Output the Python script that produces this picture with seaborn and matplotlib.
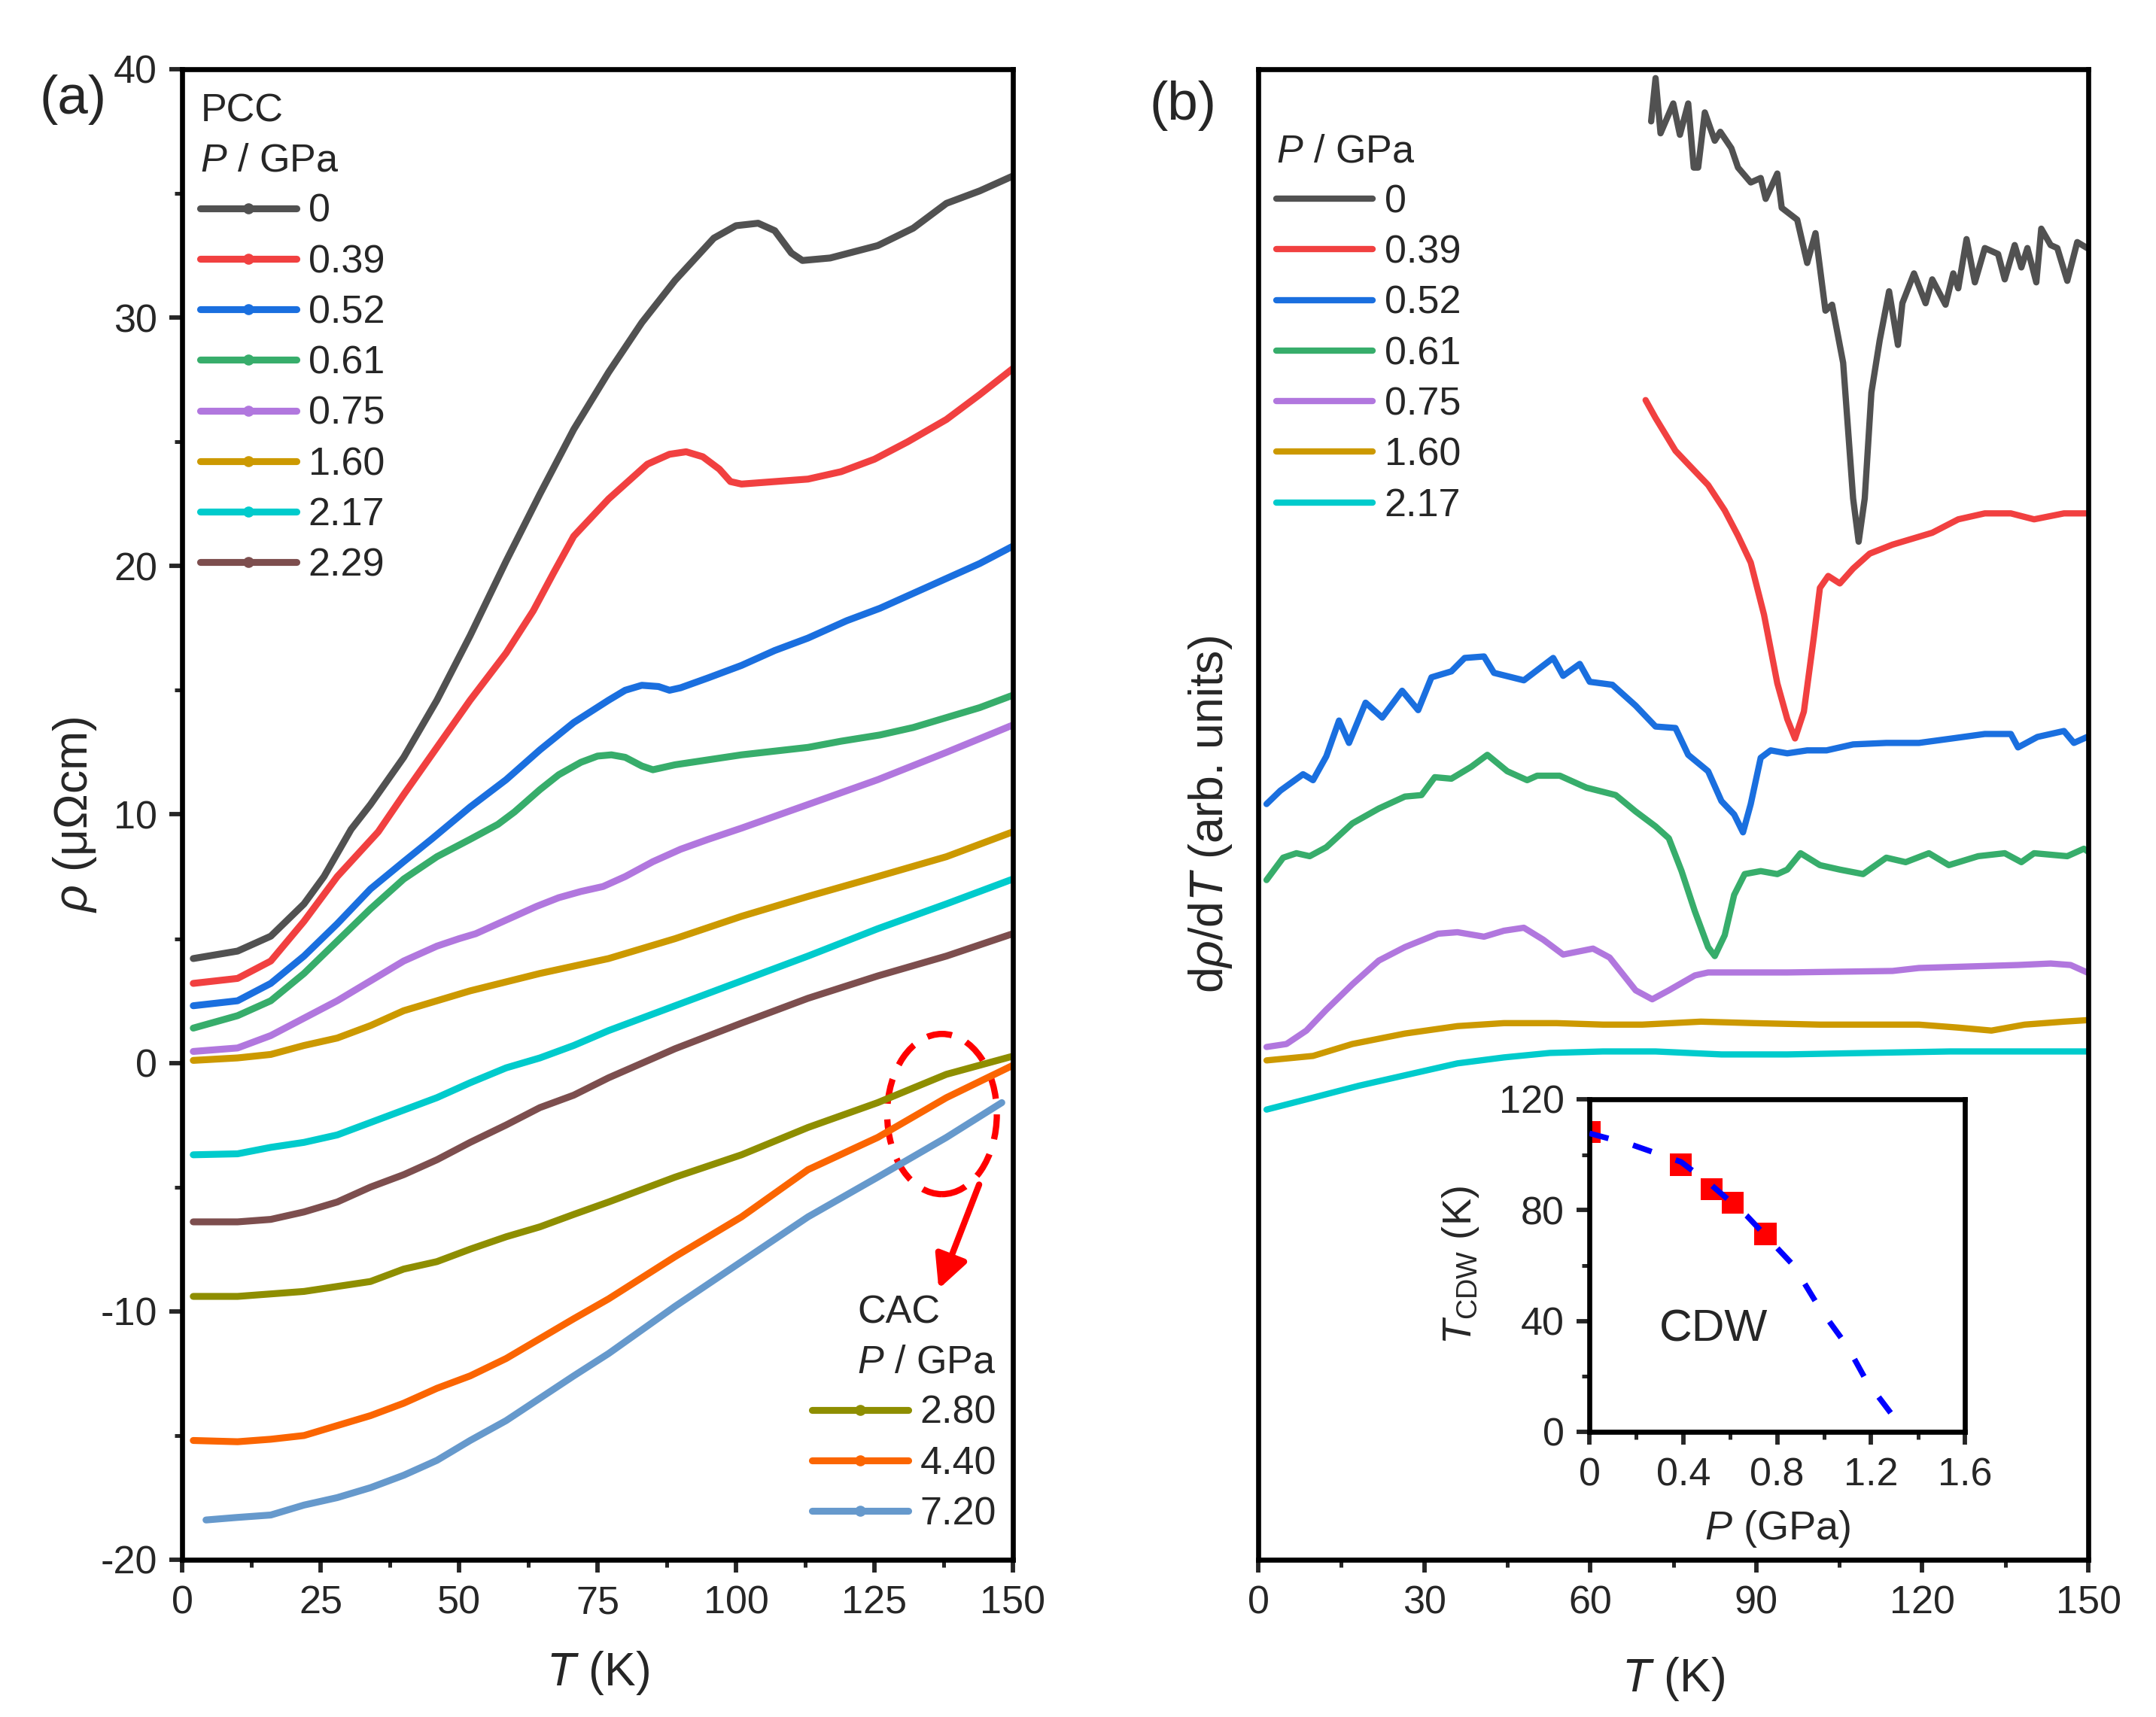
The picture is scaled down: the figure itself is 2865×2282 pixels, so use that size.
import numpy as np
import pandas as pd
import matplotlib
matplotlib.use("Agg")
import matplotlib.pyplot as plt
import seaborn as sns
from matplotlib.patches import Ellipse
from matplotlib.lines import Line2D
from matplotlib.ticker import MultipleLocator

# ---------------- data: panel (a) rho(T) ----------------
pcc_labels = ["0", "0.39", "0.52", "0.61", "0.75", "1.60", "2.17", "2.29"]
cac_labels = ["2.80", "4.40", "7.20"]
colors_a = ["#515151", "#F14040", "#1A6FDF", "#37AD6B", "#B177DE", "#CC9900",
            "#00CBCC", "#7D4E4E", "#8E8E00", "#FB6501", "#6699CC"]

T_p0 = [2, 10, 16, 22, 25.6, 30.5, 34, 40, 46, 52, 58.5, 64.6, 70.7, 77, 83, 89, 96, 100, 104, 107, 110, 112, 117, 125.6, 132, 138, 144, 150]
R_p0 = [4.2, 4.5, 5.1, 6.4, 7.5, 9.4, 10.4, 12.3, 14.6, 17.2, 20.2, 22.9, 25.5, 27.8, 29.8, 31.5, 33.2, 33.7, 33.8, 33.5, 32.6, 32.3, 32.4, 32.9, 33.6, 34.6, 35.1, 35.7]

T_p039 = [2, 10, 16, 22, 28, 35.4, 40, 46, 52, 58.5, 63.4, 67, 70.7, 77, 84, 88, 91, 94, 97, 99, 101, 107, 113, 119, 125, 131, 138, 144, 150]
R_p039 = [3.2, 3.4, 4.1, 5.7, 7.5, 9.3, 10.8, 12.7, 14.6, 16.5, 18.2, 19.7, 21.2, 22.7, 24.1, 24.5, 24.6, 24.4, 23.9, 23.4, 23.3, 23.4, 23.5, 23.8, 24.3, 25.0, 25.9, 26.9, 27.95]

T_p052 = [2, 10, 16, 22, 28, 34, 40, 45, 52, 58.5, 64.6, 70.7, 77, 80, 83, 86, 88, 90, 95, 101, 107, 113, 120, 126, 132, 138, 144, 150]
R_p052 = [2.3, 2.5, 3.2, 4.3, 5.6, 7.0, 8.1, 9.0, 10.3, 11.4, 12.6, 13.7, 14.6, 15.0, 15.2, 15.15, 15.0, 15.1, 15.5, 16.0, 16.6, 17.1, 17.8, 18.3, 18.9, 19.5, 20.1, 20.8]

T_p061 = [2, 10, 16, 22, 28, 34, 40, 46, 52, 57, 60, 64.6, 68, 72, 75, 77.5, 80, 83, 85, 89, 95, 101, 107, 113, 119, 126, 132, 138, 144, 150]
R_p061 = [1.4, 1.9, 2.5, 3.6, 4.9, 6.2, 7.4, 8.3, 9.0, 9.6, 10.1, 11.0, 11.6, 12.1, 12.35, 12.4, 12.3, 11.95, 11.8, 12.0, 12.2, 12.4, 12.55, 12.7, 12.95, 13.2, 13.5, 13.9, 14.3, 14.8]

T_p075 = [2, 10, 16, 22, 28, 34, 40, 46, 50, 53, 56, 60, 64, 68, 72, 76, 80, 85, 90, 95, 101, 113, 125.6, 138, 150]
R_p075 = [0.46, 0.6, 1.1, 1.8, 2.5, 3.3, 4.1, 4.7, 5.0, 5.2, 5.5, 5.9, 6.3, 6.65, 6.9, 7.1, 7.5, 8.1, 8.6, 9.0, 9.45, 10.4, 11.4, 12.5, 13.6]

T_p160 = [2, 10, 16, 22, 28, 34, 40, 46, 52, 64.6, 77, 89, 101, 113, 125.6, 138, 150]
R_p160 = [0.1, 0.2, 0.34, 0.7, 1.0, 1.5, 2.1, 2.5, 2.9, 3.6, 4.2, 5.0, 5.9, 6.7, 7.5, 8.3, 9.3]

T_p217 = [2, 10, 16, 22, 28, 34, 40, 46, 52, 58.5, 64.6, 70.7, 77, 89, 101, 113, 125.6, 138, 150]
R_p217 = [-3.7, -3.66, -3.4, -3.2, -2.9, -2.4, -1.9, -1.4, -0.8, -0.2, 0.2, 0.7, 1.3, 2.3, 3.3, 4.3, 5.4, 6.4, 7.4]

T_p229 = [2, 10, 16, 22, 28, 34, 40, 46, 52, 58.5, 64.6, 70.7, 77, 89, 101, 113, 125.6, 138, 150]
R_p229 = [-6.4, -6.4, -6.3, -6.0, -5.6, -5.0, -4.5, -3.9, -3.2, -2.5, -1.8, -1.3, -0.6, 0.57, 1.6, 2.6, 3.5, 4.3, 5.2]

T_p280 = [2, 10, 16, 22, 28, 34, 40, 46, 52, 58.5, 64.6, 70.7, 77, 89, 101, 113, 125.6, 138, 150]
R_p280 = [-9.4, -9.4, -9.3, -9.2, -9.0, -8.8, -8.3, -8.0, -7.5, -7.0, -6.6, -6.1, -5.6, -4.6, -3.7, -2.6, -1.6, -0.46, 0.27]

T_p440 = [2, 10, 16, 22, 28, 34, 40, 46, 52, 58.5, 64.6, 70.7, 77, 89, 101, 113, 125.6, 138, 150]
R_p440 = [-15.2, -15.25, -15.15, -15.0, -14.6, -14.2, -13.7, -13.1, -12.6, -11.9, -11.1, -10.3, -9.5, -7.8, -6.2, -4.3, -3.0, -1.4, -0.1]

T_p720 = [4.3, 9.8, 16, 22, 28, 34, 40, 46, 52, 58.5, 64.6, 70.7, 77, 89, 101, 113, 125.6, 138, 148]
R_p720 = [-18.4, -18.3, -18.2, -17.8, -17.5, -17.1, -16.6, -16.0, -15.2, -14.4, -13.5, -12.6, -11.7, -9.8, -8.0, -6.2, -4.6, -3.0, -1.6]

# ---------------- data: panel (b) drho/dT (arb. units) ----------------
b_labels = ["0", "0.39", "0.52", "0.61", "0.75", "1.60", "2.17"]

Tb_0 = [71.0, 71.8, 72.7, 75.0, 76.2, 77.7, 78.7, 79.5, 80.7, 82.5, 83.5, 85.5, 86.7, 89.0, 90.8, 91.7, 93.8, 94.6, 97.4, 99.2, 100.7, 102.5, 103.7, 105.7, 107.5, 108.5, 109.6, 110.8, 112.3, 114.0, 115.6, 116.4, 118.5, 120.6, 121.8, 124.2, 125.6, 126.5, 128.0, 129.5, 131.3, 133.7, 134.9, 136.7, 137.9, 139.0, 140.6, 141.5, 143.2, 144.4, 146.2, 148.0, 149.8]
Db_0 = [96.5, 99.4, 95.7, 97.7, 95.6, 97.7, 93.4, 93.4, 97.1, 95.2, 95.8, 94.7, 93.4, 92.4, 92.7, 91.3, 93.0, 90.7, 89.9, 87.0, 89.0, 83.8, 84.2, 80.3, 71.2, 68.3, 71.2, 78.3, 81.8, 85.1, 81.5, 84.3, 86.3, 84.3, 85.9, 84.2, 86.3, 85.3, 88.6, 85.7, 88.0, 87.6, 85.9, 88.2, 86.7, 88.0, 85.7, 89.3, 88.2, 88.0, 85.8, 88.4, 88.0]

Tb_039 = [70.0, 71.8, 75.4, 77.7, 81.3, 84.3, 86.7, 89.0, 91.4, 93.8, 95.6, 97.0, 98.6, 100.4, 101.5, 103.0, 105.1, 107.5, 110.5, 114.6, 118.2, 121.8, 126.5, 131.3, 136.0, 140.2, 145.6, 150.0]
Db_039 = [77.8, 76.6, 74.4, 73.5, 72.1, 70.4, 68.7, 66.9, 63.4, 58.8, 56.4, 55.1, 56.9, 61.9, 65.2, 66.0, 65.5, 66.5, 67.5, 68.1, 68.5, 68.9, 69.8, 70.2, 70.2, 69.8, 70.2, 70.2]

Tb_052 = [1.5, 4.0, 8.1, 9.9, 12.3, 14.6, 16.4, 19.4, 22.4, 26.0, 28.9, 31.3, 34.9, 37.3, 40.8, 42.6, 48.0, 53.3, 55.1, 58.1, 59.9, 64.0, 68.2, 71.8, 75.4, 77.7, 81.3, 83.7, 86.0, 87.6, 89.0, 90.8, 92.6, 95.6, 99.2, 102.7, 107.5, 113.5, 119.4, 125.4, 131.3, 136.0, 137.3, 140.8, 145.6, 147.4, 149.8]
Db_052 = [50.7, 51.6, 52.7, 52.3, 53.9, 56.3, 54.8, 57.5, 56.5, 58.3, 57.0, 59.2, 59.6, 60.5, 60.6, 59.5, 59.0, 60.5, 59.3, 60.1, 58.9, 58.7, 57.3, 55.9, 55.8, 54.0, 52.9, 50.9, 50.0, 48.8, 50.7, 53.8, 54.3, 54.1, 54.3, 54.3, 54.7, 54.8, 54.8, 55.1, 55.4, 55.4, 54.5, 55.2, 55.6, 54.8, 55.2]

Tb_061 = [1.5, 4.5, 6.9, 9.3, 12.3, 17.0, 21.8, 26.5, 29.5, 31.9, 34.9, 38.5, 41.4, 45.0, 48.6, 50.4, 54.5, 59.3, 64.6, 68.2, 71.8, 74.2, 76.5, 78.9, 81.3, 82.5, 84.3, 86.0, 87.9, 90.8, 93.8, 95.6, 98.0, 101.5, 105.1, 109.3, 113.5, 117.0, 121.2, 124.8, 130.1, 134.9, 137.9, 140.2, 146.2, 149.2, 150.0]
Db_061 = [45.6, 47.1, 47.4, 47.2, 47.8, 49.4, 50.4, 51.2, 51.3, 52.5, 52.4, 53.2, 54.0, 52.9, 52.3, 52.6, 52.6, 51.8, 51.3, 50.2, 49.2, 48.4, 46.2, 43.5, 41.1, 40.5, 41.9, 44.6, 46.0, 46.2, 46.0, 46.3, 47.4, 46.6, 46.3, 46.0, 47.1, 46.8, 47.4, 46.6, 47.2, 47.4, 46.8, 47.4, 47.2, 47.7, 47.5]

Tb_075 = [1.5, 5.1, 8.7, 12.3, 17.0, 21.8, 26.5, 32.5, 36.0, 40.8, 44.4, 48.0, 51.5, 55.1, 60.5, 63.5, 68.2, 71.2, 74.2, 78.9, 81.3, 95.6, 114.6, 119.4, 137.3, 143.2, 146.8, 149.8]
Db_075 = [34.4, 34.6, 35.5, 36.9, 38.6, 40.2, 41.1, 42.0, 42.1, 41.8, 42.2, 42.4, 41.6, 40.6, 41.0, 40.4, 38.2, 37.6, 38.2, 39.2, 39.4, 39.4, 39.5, 39.7, 39.9, 40.0, 39.9, 39.4]

Tb_160 = [1.5, 9.9, 17.0, 26.5, 36.0, 44.4, 53.9, 62.3, 69.4, 80.0, 89.6, 101.5, 119.4, 126.5, 132.5, 138.5, 145.6, 149.8]
Db_160 = [33.5, 33.8, 34.6, 35.3, 35.8, 36.0, 36.0, 35.9, 35.9, 36.1, 36.0, 35.9, 35.9, 35.7, 35.5, 35.9, 36.1, 36.2]

Tb_217 = [1.5, 9.9, 18.2, 26.5, 36.0, 44.4, 52.7, 62.3, 71.8, 83.7, 95.6, 110.0, 125.0, 150.0]
Db_217 = [30.2, 31.0, 31.8, 32.5, 33.3, 33.7, 34.0, 34.1, 34.1, 33.9, 33.9, 34.0, 34.1, 34.1]

# ---------------- data: inset T_CDW(P) ----------------
P_cdw = [0.0, 0.39, 0.52, 0.61, 0.75]
T_cdw = [108.2, 96.4, 87.5, 82.6, 71.4]
P_fit = [0.0, 0.18, 0.39, 0.52, 0.67, 0.87, 0.98, 1.10, 1.18, 1.29]
T_fit = [107.7, 103.6, 97.4, 89.0, 78.0, 60.0, 44.7, 30.7, 18.4, 6.1]

# ---------------- build tables ----------------
series_a = [(T_p0, R_p0), (T_p039, R_p039), (T_p052, R_p052), (T_p061, R_p061),
            (T_p075, R_p075), (T_p160, R_p160), (T_p217, R_p217), (T_p229, R_p229),
            (T_p280, R_p280), (T_p440, R_p440), (T_p720, R_p720)]
labels_a = pcc_labels + cac_labels
df_a = pd.concat([pd.DataFrame({"T": t, "rho": r, "P": lab})
                  for (t, r), lab in zip(series_a, labels_a)], ignore_index=True)
pal_a = dict(zip(labels_a, colors_a))

series_b = [(Tb_0, Db_0), (Tb_039, Db_039), (Tb_052, Db_052), (Tb_061, Db_061),
            (Tb_075, Db_075), (Tb_160, Db_160), (Tb_217, Db_217)]
df_b = pd.concat([pd.DataFrame({"T": t, "d": d, "P": lab})
                  for (t, d), lab in zip(series_b, b_labels)], ignore_index=True)
pal_b = dict(zip(b_labels, colors_a[:7]))

# ---------------- style ----------------
sns.set_style("ticks")
plt.rcParams["font.family"] = ["Liberation Sans", "DejaVu Sans"]
plt.rcParams["mathtext.fontset"] = "custom"
plt.rcParams["mathtext.rm"] = "Liberation Sans"
plt.rcParams["mathtext.it"] = "Liberation Sans:italic"
plt.rcParams["mathtext.bf"] = "Liberation Sans:bold"
plt.rcParams["axes.unicode_minus"] = False
plt.rcParams["axes.linewidth"] = 1.6

FS = 12.5
LFS = 15
LSP = 0.35

fig = plt.figure(figsize=(2865 / 300, 2282 / 300), dpi=300)
axA = fig.add_axes([0.0845, 0.0916, 0.3853, 0.8681])
axB = fig.add_axes([0.5836, 0.0916, 0.3850, 0.8681])


def style_ticks(ax, left=True):
    ax.tick_params(which="major", direction="out", length=4, width=1.4,
                   labelsize=FS, pad=4, left=left, labelleft=left)
    ax.tick_params(which="minor", direction="out", length=2.5, width=1.2,
                   left=left)
    for s in ax.spines.values():
        s.set_linewidth(1.6)
        s.set_color("black")


# ---------------- panel (a) ----------------
sns.lineplot(data=df_a, x="T", y="rho", hue="P", hue_order=labels_a, palette=pal_a,
             estimator=None, sort=False, legend=False, linewidth=2.2, ax=axA)
axA.set_xlim(0, 150)
axA.set_ylim(-20, 40)
axA.xaxis.set_major_locator(MultipleLocator(25))
axA.xaxis.set_minor_locator(MultipleLocator(12.5))
axA.yaxis.set_major_locator(MultipleLocator(10))
axA.yaxis.set_minor_locator(MultipleLocator(5))
style_ticks(axA)
axA.set_xlabel("$T$ (K)", fontsize=LFS)
axA.set_ylabel("$\\rho$ (μΩcm)", fontsize=LFS)
axA.xaxis.set_label_coords(0.5, -0.06)
axA.yaxis.set_label_coords(-0.101, 0.5)

h_pcc = [Line2D([], [], color=pal_a[l], lw=2.2, marker="o", ms=2.5) for l in pcc_labels]
leg1 = axA.legend(h_pcc, pcc_labels, title="PCC\n$P$ / GPa", loc="upper left",
                  bbox_to_anchor=(0.022, 0.984), frameon=False, fontsize=FS,
                  title_fontsize=FS, handlelength=2.45, handletextpad=0.3,
                  labelspacing=LSP, borderpad=0, borderaxespad=0, alignment="left",
                  numpoints=1)
leg1.get_title().set_linespacing(1.45)
axA.add_artist(leg1)
h_cac = [Line2D([], [], color=pal_a[l], lw=2.2, marker="o", ms=2.5) for l in cac_labels]
leg2 = axA.legend(h_cac, cac_labels, title="CAC\n$P$ / GPa", loc="lower right",
                  bbox_to_anchor=(0.98, 0.018), frameon=False, fontsize=FS,
                  title_fontsize=FS, handlelength=2.45, handletextpad=0.3,
                  labelspacing=LSP, borderpad=0, borderaxespad=0, alignment="right",
                  numpoints=1)
leg2.get_title().set_linespacing(1.45)

ell = Ellipse((137.2, -2.06), 19.8, 6.45, fill=False, edgecolor="#ff0000",
              linestyle=(0, (4, 2.5)), linewidth=2.0)
axA.add_patch(ell)
axA.annotate("", xy=(136.6, -9.1), xytext=(143.9, -4.9),
             arrowprops=dict(arrowstyle="-|>", color="#ff0000", lw=2.0,
                             mutation_scale=22, shrinkA=0, shrinkB=0))

# ---------------- panel (b) ----------------
sns.lineplot(data=df_b, x="T", y="d", hue="P", hue_order=b_labels, palette=pal_b,
             estimator=None, sort=False, legend=False, linewidth=2.0, ax=axB)
axB.set_xlim(0, 150)
axB.set_ylim(0, 100)
axB.xaxis.set_major_locator(MultipleLocator(30))
axB.xaxis.set_minor_locator(MultipleLocator(15))
axB.set_yticks([])
style_ticks(axB, left=False)
axB.set_xlabel("$T$ (K)", fontsize=LFS)
axB.set_ylabel("d$\\rho$/d$T$ (arb. units)", fontsize=LFS)
axB.xaxis.set_label_coords(0.5, -0.064)
axB.yaxis.set_label_coords(-0.029, 0.5)

h_b = [Line2D([], [], color=pal_b[l], lw=2.0) for l in b_labels]
axB.legend(h_b, b_labels, title="$P$ / GPa", loc="upper left",
           bbox_to_anchor=(0.022, 0.957), frameon=False, fontsize=FS,
           title_fontsize=FS, handlelength=2.45, handletextpad=0.3,
           labelspacing=LSP, borderpad=0, borderaxespad=0, alignment="left")

# ---------------- inset ----------------
axI = fig.add_axes([0.7372, 0.1661, 0.1742, 0.1937])
sns.scatterplot(x=P_cdw, y=T_cdw, marker="s", color="#ff0000", s=50,
                edgecolor="none", ax=axI, zorder=2)
sns.lineplot(x=P_fit, y=T_fit, color="#0000ff", linewidth=1.8, ax=axI,
             linestyle=(0, (3.5, 4.5)), sort=False, estimator=None, zorder=3)
axI.set_xlim(0, 1.6)
axI.set_ylim(0, 120)
axI.set_xticks([0, 0.4, 0.8, 1.2, 1.6])
axI.set_xticklabels(["0", "0.4", "0.8", "1.2", "1.6"])
axI.xaxis.set_minor_locator(MultipleLocator(0.2))
axI.set_yticks([0, 40, 80, 120])
axI.yaxis.set_minor_locator(MultipleLocator(20))
style_ticks(axI)
axI.set_xlabel("$P$ (GPa)", fontsize=13)
axI.set_ylabel("$T_{\\rm CDW}$ (K)", fontsize=13)
axI.xaxis.set_label_coords(0.5, -0.231)
axI.yaxis.set_label_coords(-0.289, 0.5)
axI.text(0.53, 36.8, "CDW", fontsize=14.5, ha="center", va="center")

# ---------------- panel letters ----------------
fig.text(97 / 2865, 1 - 133 / 2282, "(a)", fontsize=17.5, ha="center", va="center")
fig.text(1572 / 2865, 1 - 140 / 2282, "(b)", fontsize=17.5, ha="center", va="center")

fig.savefig("out.png", dpi=300)
